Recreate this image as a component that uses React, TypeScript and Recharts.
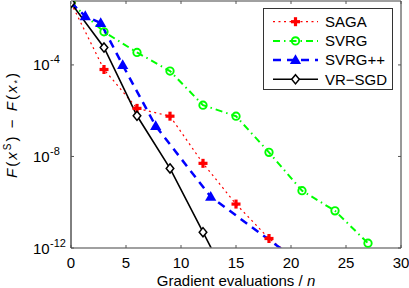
import React from 'react';
import { LineChart, Line, XAxis, YAxis } from 'recharts';

const FONT = "'Liberation Sans', Arial, Helvetica, sans-serif";

const xTicks = [0, 5, 10, 15, 20, 25, 30];
const yTicks = [1e-12, 1e-8, 1e-4];
const yTickExponents: Record<string, string> = { '1e-12': '-12', '1e-8': '-8', '0.0001': '-4' };

const seriesNames = ['SAGA', 'SVRG', 'SVRG++', 'VR\u2212SGD'];

const sagaX = [0, 3, 6, 9, 12, 15, 18, 21];
const sagaY = [5.1e-2, 6.3e-5, 1.26e-6, 5.75e-7, 5.0e-9, 8.3e-11, 2.6e-12, 2.0e-13];

const svrgX = [0, 3, 6, 9, 12, 15, 18, 21, 24, 27];
const svrgY = [5.1e-2, 2.8e-3, 3.5e-4, 5.4e-5, 1.74e-6, 5.75e-7, 1.51e-8, 3.2e-10, 4.2e-11, 1.62e-12];

const svrgppX = [0, 1.3, 2.7, 4.7, 7.7, 12.7, 20.7];
const svrgppY = [5.1e-2, 1.35e-2, 6.8e-3, 9.8e-5, 2.14e-7, 1.74e-10, 2.5e-13];

const vrsgdX = [0, 3, 6, 9, 12, 15];
const vrsgdY = [5.1e-2, 5.75e-4, 6.0e-7, 3.0e-9, 4.9e-12, 7.9e-15];

const toData = (xs: number[], ys: number[]) => xs.map((x, i) => ({ x, y: ys[i] }));
const sagaData = toData(sagaX, sagaY);
const svrgData = toData(svrgX, svrgY);
const svrgppData = toData(svrgppX, svrgppY);
const vrsgdData = toData(vrsgdX, vrsgdY);

const RED = '#ff0000';
const GREEN = '#00ff00';
const BLUE = '#0000ff';
const BLACK = '#000000';

const PlusMark = ({ cx, cy }: { cx: number; cy: number }) => (
  <g>
    <rect x={cx - 4.5} y={cy - 1.6} width={9} height={3.2} fill={RED} />
    <rect x={cx - 1.6} y={cy - 4.5} width={3.2} height={9} fill={RED} />
  </g>
);
const CircleMark = ({ cx, cy }: { cx: number; cy: number }) => (
  <circle cx={cx} cy={cy} r={3.7} fill="none" stroke={GREEN} strokeWidth={1.9} />
);
const TriMark = ({ cx, cy }: { cx: number; cy: number }) => (
  <polygon points={`${cx},${cy - 5.8} ${cx + 5.6},${cy + 4} ${cx - 5.6},${cy + 4}`} fill={BLUE} />
);
const DiaMark = ({ cx, cy }: { cx: number; cy: number }) => (
  <polygon
    points={`${cx},${cy - 4.6} ${cx + 3.8},${cy} ${cx},${cy + 4.6} ${cx - 3.8},${cy}`}
    fill="#ffffff"
    stroke={BLACK}
    strokeWidth={1.5}
  />
);

const makeDot = (Mark: any) => (p: any) => {
  if (p.cx == null || p.cy == null || isNaN(p.cx) || isNaN(p.cy)) return <g key={p.index} />;
  return <Mark key={p.index} cx={p.cx} cy={p.cy} />;
};

const XTickBottom = (props: any) => {
  const { x, y, payload } = props;
  return (
    <g>
      <line x1={x} x2={x} y1={y} y2={y - 3} stroke="#555" strokeWidth={1} />
      <text x={x} y={y + 20} textAnchor="middle" fontSize={15} fontFamily={FONT} fill="#000">
        {payload.value}
      </text>
    </g>
  );
};
const XTickTop = (props: any) => {
  const { x, y } = props;
  return <line x1={x} x2={x} y1={y} y2={y + 3} stroke="#555" strokeWidth={1} />;
};
const YTickLeft = (props: any) => {
  const { x, y, payload } = props;
  const exp = yTickExponents[String(payload.value)] ?? '';
  return (
    <g>
      <line x1={x} x2={x + 3} y1={y} y2={y} stroke="#555" strokeWidth={1} />
      <text x={33} y={y + 5.5} fontSize={15} fontFamily={FONT} fill="#000">
        10
      </text>
      <text x={50} y={y - 1.5} fontSize={11} fontFamily={FONT} fill="#000">
        {exp}
      </text>
    </g>
  );
};
const YTickRight = (props: any) => {
  const { x, y } = props;
  return <line x1={x} x2={x - 3} y1={y} y2={y} stroke="#555" strokeWidth={1} />;
};

const legendItems = [
  { name: seriesNames[0], color: RED, dash: '2 3.5', width: 1.3, Mark: PlusMark },
  { name: seriesNames[1], color: GREEN, dash: '7 4 1.5 4', width: 2, Mark: CircleMark },
  { name: seriesNames[2], color: BLUE, dash: '8 6', width: 2.5, Mark: TriMark },
  { name: seriesNames[3], color: BLACK, dash: undefined, width: 1.6, Mark: DiaMark },
];

export default function App() {
  return (
    <div style={{ position: 'absolute', left: 0, top: 0, width: 409, height: 288, background: '#fff' }}>
      <LineChart width={409} height={288} margin={{ top: 0, right: 0, bottom: 0, left: 0 }}>
        <XAxis
          xAxisId="b"
          type="number"
          dataKey="x"
          domain={[0, 30]}
          ticks={xTicks}
          interval={0}
          allowDataOverflow
          height={40}
          orientation="bottom"
          axisLine={{ stroke: '#808080', strokeWidth: 1.5 }}
          tickLine={false}
          tickSize={0}
          tickMargin={0}
          tick={<XTickBottom />}
        />
        <XAxis
          xAxisId="t"
          type="number"
          dataKey="x"
          domain={[0, 30]}
          ticks={xTicks}
          interval={0}
          allowDataOverflow
          height={1}
          orientation="top"
          axisLine={{ stroke: '#808080', strokeWidth: 1.5 }}
          tickLine={false}
          tickSize={0}
          tickMargin={0}
          tick={<XTickTop />}
        />
        <YAxis
          yAxisId="l"
          scale="log"
          type="number"
          domain={[1e-12, 0.062]}
          ticks={yTicks}
          interval={0}
          allowDataOverflow
          width={71}
          orientation="left"
          axisLine={{ stroke: '#000', strokeWidth: 1 }}
          tickLine={false}
          tickSize={0}
          tickMargin={0}
          tick={<YTickLeft />}
        />
        <YAxis
          yAxisId="r"
          scale="log"
          type="number"
          domain={[1e-12, 0.062]}
          ticks={yTicks}
          interval={0}
          allowDataOverflow
          width={8}
          orientation="right"
          axisLine={{ stroke: '#333', strokeWidth: 1 }}
          tickLine={false}
          tickSize={0}
          tickMargin={0}
          tick={<YTickRight />}
        />
        <Line
          xAxisId="b"
          yAxisId="l"
          data={sagaData}
          dataKey="y"
          type="linear"
          stroke={RED}
          strokeWidth={1.2}
          strokeDasharray="2 3.5"
          dot={makeDot(PlusMark)}
          activeDot={false}
          isAnimationActive={false}
        />
        <Line
          xAxisId="b"
          yAxisId="l"
          data={svrgData}
          dataKey="y"
          type="linear"
          stroke={GREEN}
          strokeWidth={2}
          strokeDasharray="7 4 1.5 4"
          dot={makeDot(CircleMark)}
          activeDot={false}
          isAnimationActive={false}
        />
        <Line
          xAxisId="b"
          yAxisId="l"
          data={svrgppData}
          dataKey="y"
          type="linear"
          stroke={BLUE}
          strokeWidth={2.5}
          strokeDasharray="8 6"
          dot={makeDot(TriMark)}
          activeDot={false}
          isAnimationActive={false}
        />
        <Line
          xAxisId="b"
          yAxisId="l"
          data={vrsgdData}
          dataKey="y"
          type="linear"
          stroke={BLACK}
          strokeWidth={1.6}
          dot={makeDot(DiaMark)}
          activeDot={false}
          isAnimationActive={false}
        />
      </LineChart>
      <svg
        width={409}
        height={288}
        style={{ position: 'absolute', left: 0, top: 0, pointerEvents: 'none' }}
      >
        <rect x={263.5} y={8.5} width={129} height={81} fill="#fff" stroke="#333" strokeWidth={1} />
        {legendItems.map((it, i) => {
          const cy = 21.7 + i * 19.2;
          return (
            <g key={it.name}>
              <line
                x1={273}
                x2={318}
                y1={cy}
                y2={cy}
                stroke={it.color}
                strokeWidth={it.width}
                strokeDasharray={it.dash}
              />
              <it.Mark cx={295.5} cy={cy} />
              <text x={325} y={cy + 5.3} fontSize={15} fontFamily={FONT} fill="#000">
                {it.name}
              </text>
            </g>
          );
        })}
        <text x={236} y={285.5} textAnchor="middle" fontSize={15} fontFamily={FONT} fill="#000">
          Gradient evaluations / <tspan fontStyle="italic">n</tspan>
        </text>
        <text
          transform="translate(17,178) rotate(-90)"
          x={0}
          y={0}
          textLength={105}
          lengthAdjust="spacing"
          fontSize={15}
          fontFamily={FONT}
          fill="#000"
        >
          <tspan fontStyle="italic">F</tspan>(<tspan fontStyle="italic">x</tspan>
          <tspan fontSize={10} dy={-6}>S</tspan>
          <tspan dy={6}>) {'\u2212'} </tspan>
          <tspan fontStyle="italic">F</tspan>(<tspan fontStyle="italic">x</tspan>
          <tspan fontSize={9} dy={3}>*</tspan>
          <tspan dy={-3}>)</tspan>
        </text>
      </svg>
    </div>
  );
}
